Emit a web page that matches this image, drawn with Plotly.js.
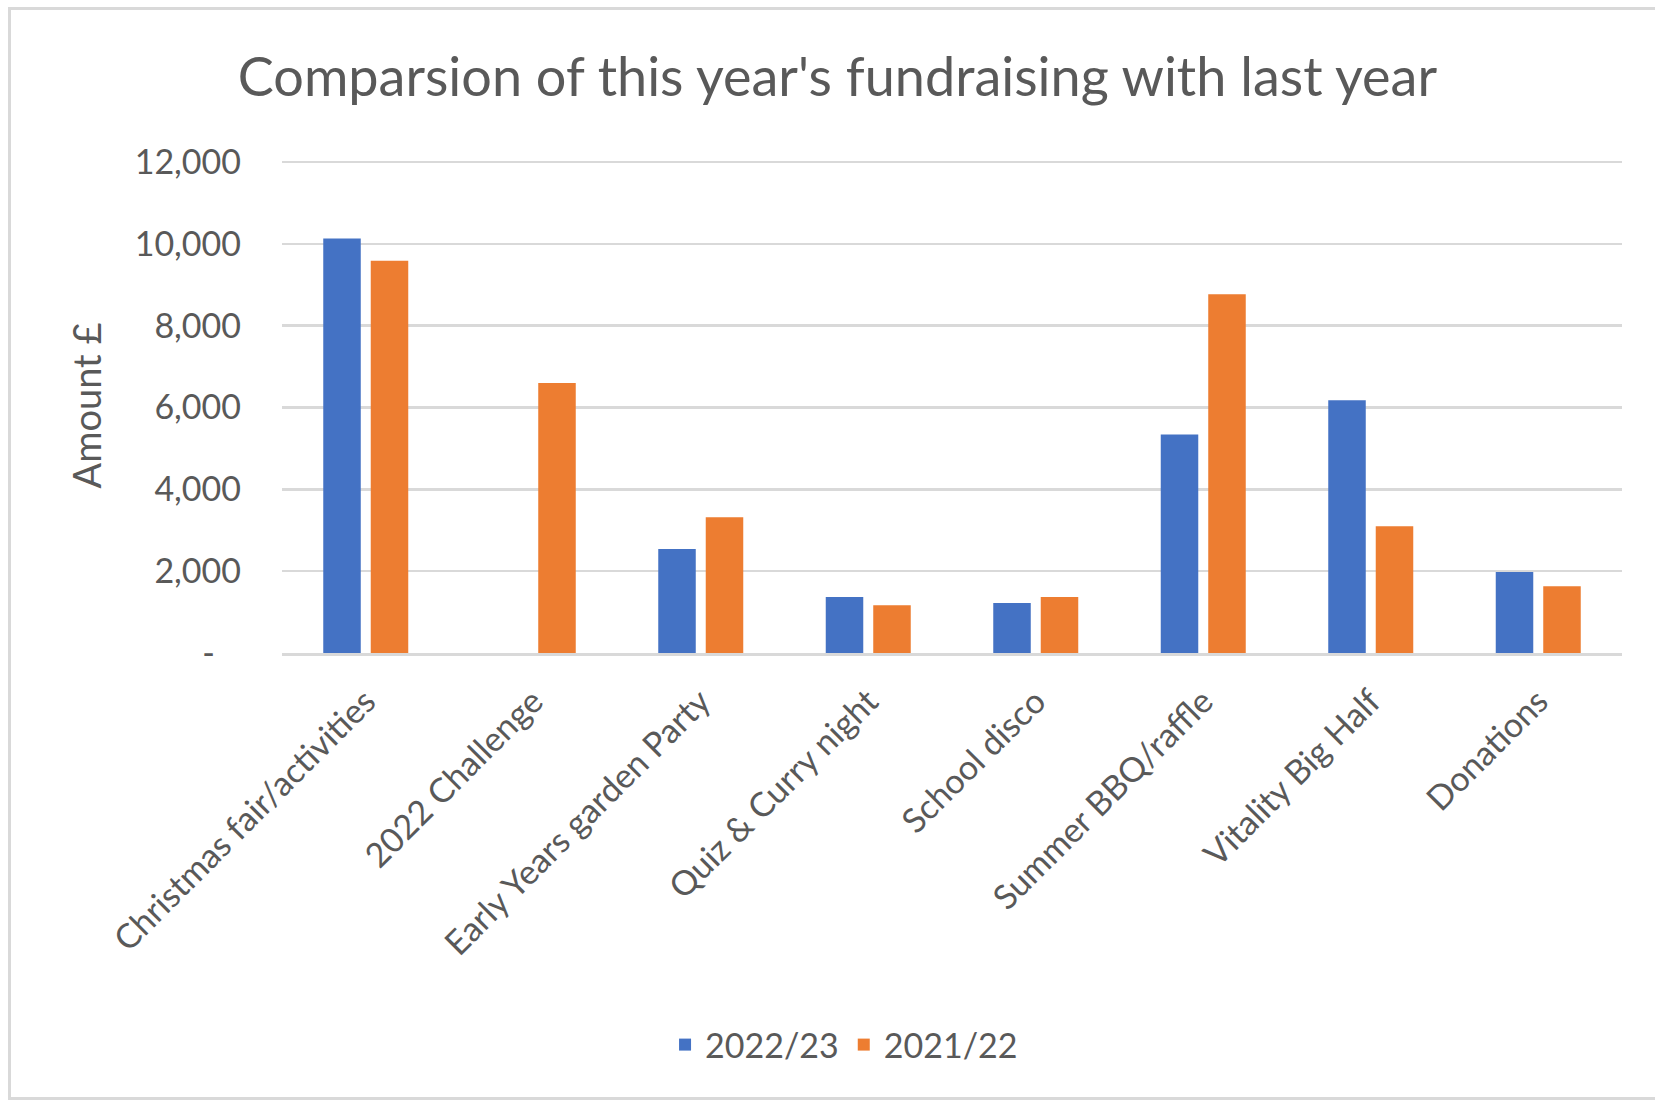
<!DOCTYPE html>
<html>
<head>
<meta charset="utf-8">
<script src="https://cdn.plot.ly/plotly-3.0.1.min.js"></script>
<style>
  html, body { margin: 0; padding: 0; background: #ffffff; }
  #frame { position: absolute; left: 8px; top: 7px; width: 1660px; height: 1093px;
           border: 3px solid #d9d9d9; box-sizing: border-box; }
  #chart { position: absolute; left: 0; top: 0; width: 1655px; height: 1101px; }
</style>
</head>
<body>
<div id="frame"></div>
<div id="chart"></div>
<script>
const categories = ["Christmas fair/activities", "2022 Challenge", "Early Years garden Party",
  "Quiz & Curry night", "School disco", "Summer BBQ/raffle", "Vitality Big Half", "Donations"];
const series2223 = [10130, 0, 2540, 1370, 1220, 5340, 6180, 1980];
const series2122 = [9590, 6600, 3320, 1170, 1370, 8770, 3100, 1630];
const seriesNames = ["2022/23", "2021/22"];
const tickVals = [0, 2000, 4000, 6000, 8000, 10000, 12000];
const tickText = ["-\u00a0\u00a0\u00a0", "2,000", "4,000", "6,000", "8,000", "10,000", "12,000"];

const FONT = "Lato, 'Open Sans', sans-serif";
const TXT = "#595959";

const traces = [
  { type: "bar", name: seriesNames[0], x: categories, y: series2223,
    marker: { color: "#4472C4" }, hoverinfo: "x+y" },
  { type: "bar", name: seriesNames[1], x: categories, y: series2122,
    marker: { color: "#ED7D31" }, hoverinfo: "x+y" }
];

const layout = {
  width: 1655, height: 1101,
  paper_bgcolor: "rgba(0,0,0,0)", plot_bgcolor: "rgba(0,0,0,0)",
  margin: { l: 282, r: 33, t: 158, b: 448, autoexpand: false },
  font: { family: FONT, color: TXT, size: 34 },
  title: { text: "Comparsion of this year's fundraising with last year",
    font: { family: FONT, size: 54, color: TXT },
    xref: "container", x: 0.506, xanchor: "center",
    yref: "container", y: 1 - 77/1101, yanchor: "middle" },
  barmode: "group", bargap: 0.433, bargroupgap: 0.21,
  showlegend: true,
  legend: { orientation: "h", xref: "container", x: 0.51, xanchor: "center",
    yref: "container", y: 1 - 1045/1101, yanchor: "middle",
    font: { family: FONT, size: 34, color: TXT }, itemwidth: 30, traceorder: "normal" },
  xaxis: { type: "category", tickangle: -45, automargin: false,
    showgrid: false, showline: true, linecolor: "#d9d9d9", linewidth: 3,
    ticks: "", ticklabelstandoff: 12, tickfont: { family: FONT, size: 34, color: TXT },
    fixedrange: true },
  yaxis: { range: [0, 12100], tickmode: "array", tickvals: tickVals, ticktext: tickText,
    showgrid: true, gridcolor: "#d9d9d9", gridwidth: 2.5, zeroline: false,
    showline: false, ticks: "", ticklabelstandoff: 40, automargin: false,
    tickfont: { family: FONT, size: 34, color: TXT },
    title: { text: "Amount £", font: { family: FONT, size: 38, color: TXT }, standoff: 21 },
    fixedrange: true }
};

Plotly.newPlot("chart", traces, layout, { displayModeBar: false, staticPlot: true });
</script>
</body>
</html>
